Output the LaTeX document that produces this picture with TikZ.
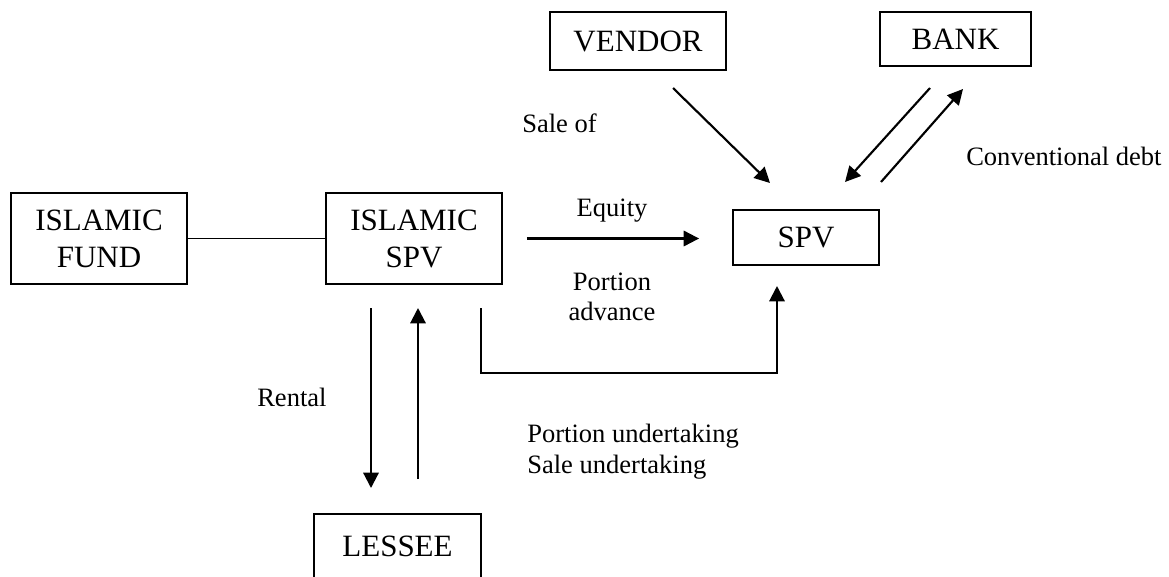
\documentclass[tikz,border=0pt]{standalone}
\usepackage{fontspec}
\setmainfont{Liberation Serif}
\usetikzlibrary{arrows.meta}
\newdimen\px \px=0.75pt
\begin{document}
\begin{tikzpicture}[x=0.75pt,y=-0.75pt,
  box/.style={draw, line width=1.4pt, inner sep=0pt, align=center,
    font=\fontsize{23.25pt}{27.75pt}\selectfont},
  lbl/.style={inner sep=0pt, font=\fontsize{19.9pt}{23pt}\selectfont},
  arr/.style={line width=1.6pt, -{Triangle[length=11.5pt,width=11.5pt]}},
  link/.style={line width=1.4pt}]
\useasboundingbox (0,0) rectangle (1169,576);

% parties
\node[box, minimum width=176\px, minimum height=91\px] (fund) at (99,238.5) {ISLAMIC\\FUND};
\node[box, minimum width=176\px, minimum height=91\px] (ispv) at (414,238.5) {ISLAMIC\\SPV};
\node[box, minimum width=176\px, minimum height=58\px] (vendor) at (638,41) {VENDOR};
\node[box, minimum width=151\px, minimum height=54\px] (bank) at (955.5,39) {BANK};
\node[box, minimum width=146\px, minimum height=55\px] (spv) at (806,237.5) {SPV};
\node[box, minimum width=167\px, minimum height=65\px] (lessee) at (397.5,546.5) {LESSEE};

% free ends of the flows
\coordinate (vendorOut) at (673,88);
\coordinate (vendorIn) at (770,183);
\coordinate (bankOut) at (930,88);
\coordinate (bankIn) at (845,182);
\coordinate (debtOut) at (881,182);
\coordinate (debtIn) at (963,89);
\coordinate (rentOut) at (371,308);
\coordinate (rentIn) at (371,488);
\coordinate (leaseOut) at (418,479);
\coordinate (leaseIn) at (418,308);
\coordinate (advOut) at (481,308);
\coordinate (advCorner1) at (481,373);
\coordinate (advCorner2) at (777,373);
\coordinate (advIn) at (777,286);

% flows
\draw[link] (fund) -- (ispv);
\draw[arr, shorten <=24\px, shorten >=33\px] (ispv.east) -- (ispv.east -| spv.west);
\draw[arr] (vendorOut) -- (vendorIn);
\draw[arr] (bankOut) -- (bankIn);
\draw[arr] (debtOut) -- (debtIn);
\draw[arr] (rentOut) -- (rentIn);
\draw[arr] (leaseOut) -- (leaseIn);
\draw[arr] (advOut) -- (advCorner1) -- (advCorner2) -- (advIn);

% labels
\node[lbl, anchor=base west] (saleof) at (522,132) {Sale of};
\node[lbl, anchor=base west] (convdebt) at (966,165) {Conventional debt};
\node[lbl, anchor=base] (equity) at (612,216) {Equity};
\node[lbl, anchor=base] (padvA) at (612,290) {Portion};
\node[lbl, anchor=base] (padvB) at (612,320) {advance};
\node[lbl, anchor=base west] (rental) at (257,406) {Rental};
\node[lbl, anchor=base west] (undA) at (527,442) {Portion undertaking};
\node[lbl, anchor=base west] (undB) at (527,473) {Sale undertaking};
\end{tikzpicture}
\end{document}
